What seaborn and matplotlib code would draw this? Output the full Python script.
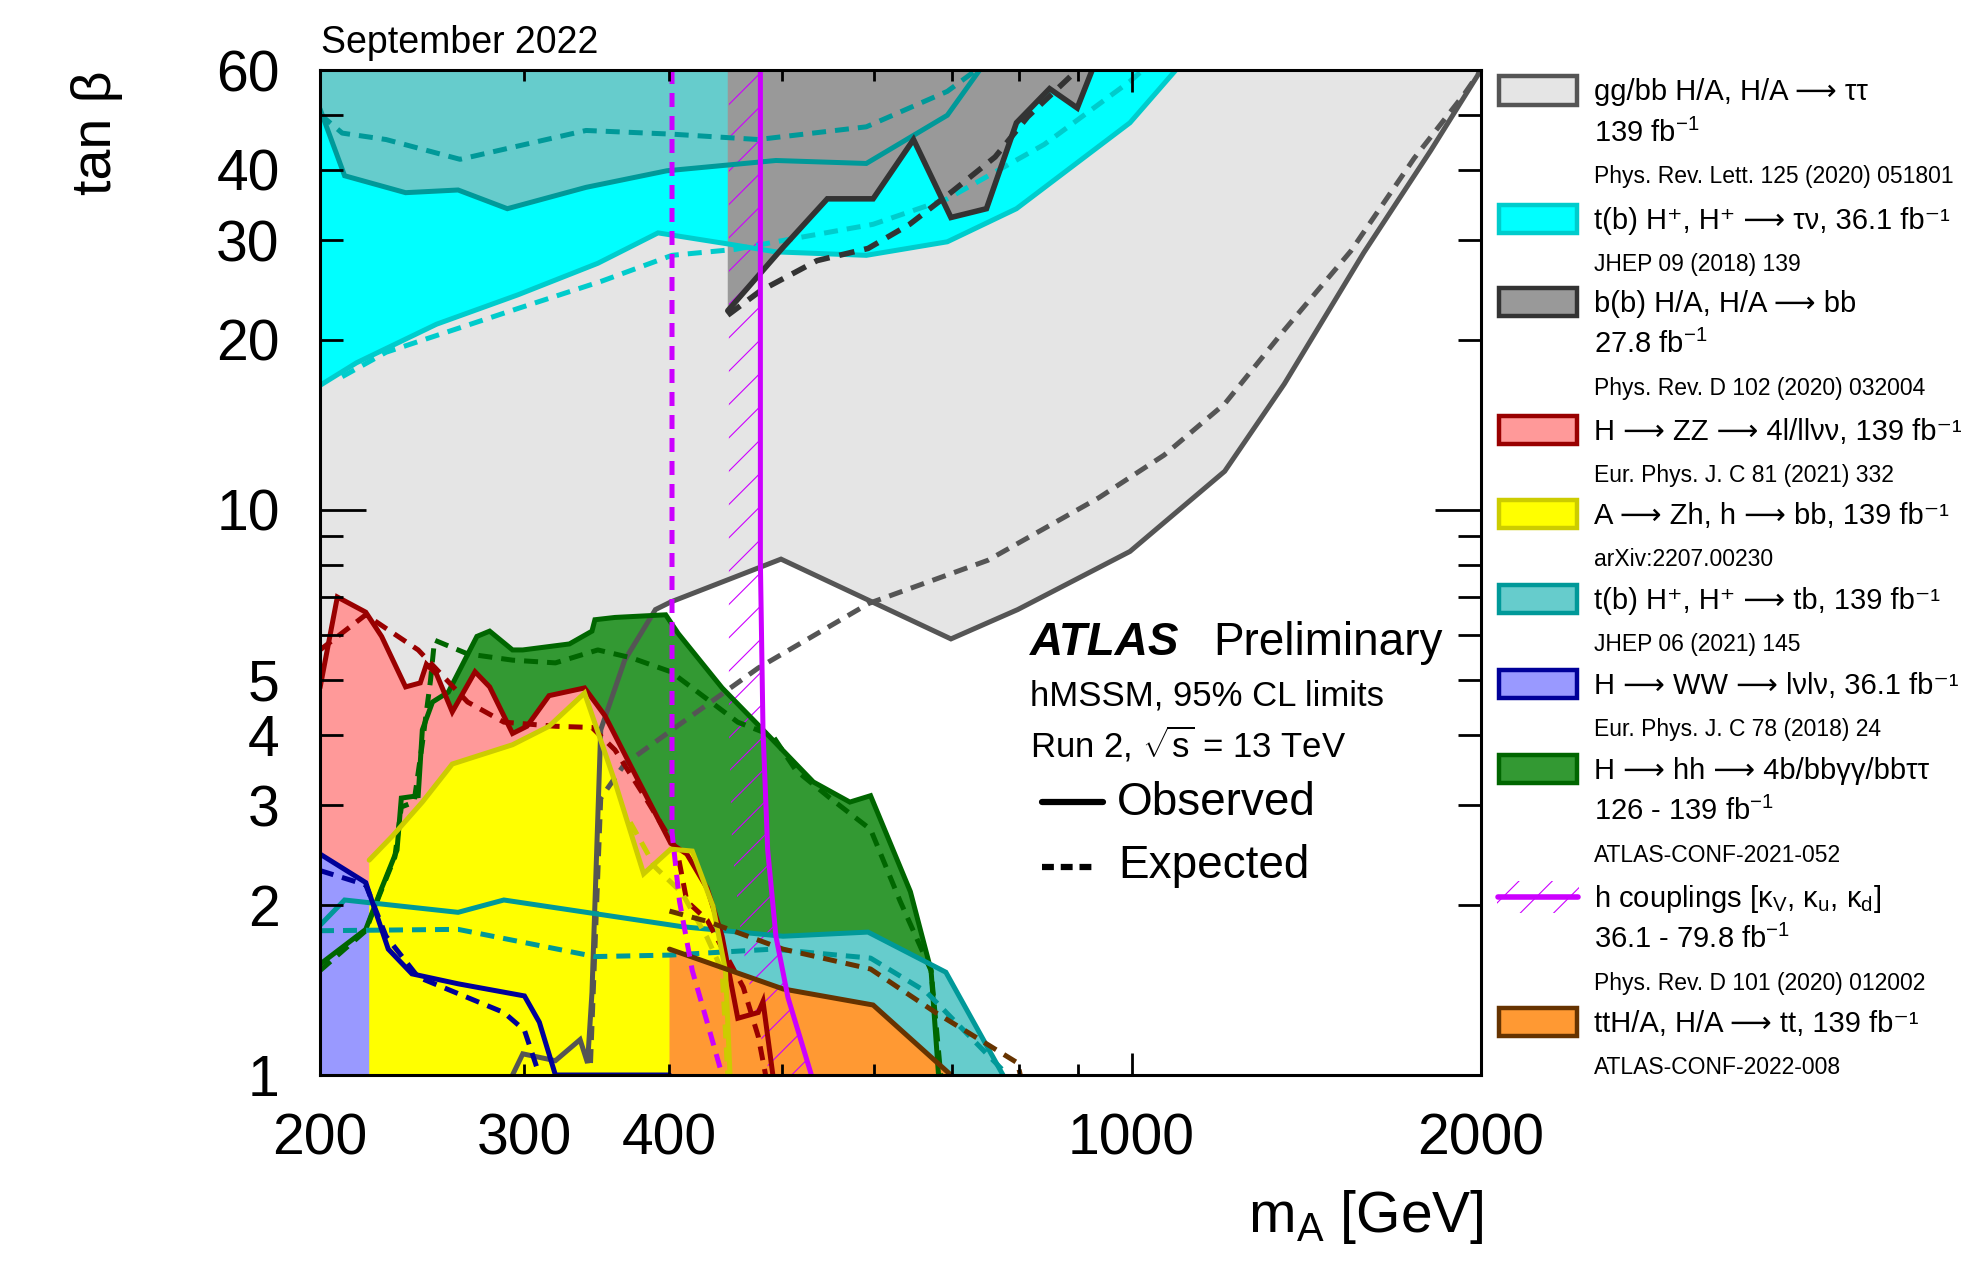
import matplotlib
matplotlib.use("Agg")
import matplotlib.pyplot as plt
from matplotlib.patches import Rectangle, Polygon
from matplotlib.lines import Line2D
import seaborn as sns

# axis range
XMIN, XMAX = 200, 2000
YMIN, YMAX = 1, 60

# gg/bb H/A -> tautau
TT_OBS_MA = [293, 299, 319, 335, 340, 343, 349, 366, 389, 401, 499, 699, 798, 997, 1203, 1354, 1585, 1810, 2000]
TT_OBS_TB = [1.0, 1.09, 1.06, 1.155, 1.05, 1.4, 4.08, 5.42, 6.66, 6.87, 8.18, 5.91, 6.66, 8.44, 11.7, 16.7, 28.5, 43.2, 60]
TT_EXP_MA = [342, 349, 366, 406, 477, 594, 752, 937, 1067, 1203, 1354, 1545, 1752, 1936, 2000]
TT_EXP_TB = [1.05, 3.09, 3.55, 4.14, 5.25, 6.83, 8.14, 10.5, 12.5, 15.4, 20.8, 28.7, 41.9, 54.5, 60]

# t(b) H+, H+ -> tau nu
TAUNU_OBS_MA = [200, 215, 252, 296, 347, 391, 451, 494, 591, 694, 796, 997, 1092]
TAUNU_OBS_TB = [16.6, 18.2, 21.3, 24.0, 27.3, 30.9, 29.5, 28.6, 28.2, 29.8, 34.1, 48.4, 60]
TAUNU_EXP_MA = [209, 228, 296, 350, 402, 456, 494, 599, 694, 841, 997, 1023]
TAUNU_EXP_TB = [17.2, 19.0, 22.7, 25.4, 28.2, 28.9, 29.8, 32.0, 35.5, 44.3, 57.3, 60]

# t(b) H+, H+ -> tb (high and low tan beta)
TBH_OBS_MA = [200, 210, 237, 263, 290, 339, 398, 494, 591, 694, 740]
TBH_OBS_TB = [51.2, 39.0, 36.4, 36.8, 34.1, 37.2, 39.8, 41.5, 41.0, 49.9, 60]
TBH_EXP_MA = [200, 209, 228, 264, 339, 402, 477, 591, 694, 735]
TBH_EXP_TB = [50.1, 46.4, 45.2, 41.7, 46.9, 46.2, 45.2, 47.6, 55.0, 60]
TBL_OBS_MA = [200, 210, 263, 288, 410, 501, 593, 692, 775]
TBL_OBS_TB = [1.84, 2.04, 1.94, 2.04, 1.83, 1.76, 1.79, 1.52, 1.0]
TBL_EXP_MA = [200, 263, 345, 401, 491, 596, 665, 782]
TBL_EXP_TB = [1.80, 1.81, 1.62, 1.63, 1.67, 1.61, 1.405, 1.0]

# b(b) H/A -> bb
BB_OBS_MA = [449, 500, 547, 599, 649, 699, 750, 796, 850, 898, 925]
BB_OBS_TB = [22.5, 29.0, 35.5, 35.5, 45.2, 32.9, 34.1, 48.4, 55.6, 51.4, 60]
BB_EXP_MA = [449, 479, 536, 593, 644, 701, 763, 814, 898]
BB_EXP_TB = [22.1, 24.4, 27.6, 29.0, 32.0, 36.6, 42.1, 49.6, 60]

# H -> ZZ
ZZ_OBS_MA = [200, 207, 219, 226, 237, 244, 247, 252, 260, 272, 280, 293, 301.5, 315, 338, 352, 371, 401, 414, 431, 444, 458, 477, 481.5, 491]
ZZ_OBS_TB = [4.84, 7.01, 6.59, 5.97, 4.86, 4.94, 5.33, 5.12, 4.39, 5.17, 4.86, 4.02, 4.14, 4.69, 4.84, 4.32, 3.50, 2.57, 2.46, 2.14, 1.76, 1.26, 1.29, 1.35, 1.0]
ZZ_EXP_MA = [200, 219, 243, 268, 288, 319, 343, 359, 381.5, 406, 414, 431, 463, 477, 484]
ZZ_EXP_TB = [5.65, 6.52, 5.65, 4.57, 4.21, 4.14, 4.12, 3.76, 3.09, 2.50, 2.03, 1.88, 1.43, 1.17, 1.0]

# A -> Zh
ZH_OBS_MA = [220.5, 231, 245, 260, 293, 315, 338, 359, 380, 401, 418.5, 436, 447, 451]
ZH_OBS_TB = [2.40, 2.65, 3.04, 3.55, 3.84, 4.14, 4.74, 3.30, 2.27, 2.51, 2.49, 1.99, 1.53, 1.0]
ZH_EXP_MA = [370, 389, 410, 431, 444, 449]
ZH_EXP_TB = [2.8, 2.33, 2.1, 1.75, 1.53, 1.0]

# H -> WW
WW_OBS_MA = [200, 219, 229, 240, 263, 300, 309, 319, 400]
WW_OBS_TB = [2.46, 2.19, 1.67, 1.51, 1.45, 1.38, 1.24, 1.0, 1.0]
WW_EXP_MA = [200, 219, 228, 243, 288, 300, 309]
WW_EXP_TB = [2.30, 2.17, 1.76, 1.49, 1.29, 1.20, 1.0]

# H -> hh
HH_OBS_MA = [200, 219, 226, 233, 235, 243, 245, 250, 258, 273, 280, 293, 299, 328, 343, 345, 359, 397, 407, 444, 481.5, 532, 572, 596, 645, 672, 682]
HH_OBS_TB = [1.57, 1.81, 2.14, 2.50, 3.09, 3.12, 4.08, 4.57, 4.76, 5.97, 6.10, 5.65, 5.65, 5.79, 6.10, 6.39, 6.45, 6.52, 6.04, 4.84, 4.08, 3.30, 3.04, 3.12, 2.11, 1.53, 1.0]
HH_EXP_MA = [200, 219, 225, 232, 235, 241, 245, 249, 251, 268, 293, 319, 347, 371, 401, 423, 458, 491, 514, 550, 596, 632, 672, 685]
HH_EXP_TB = [1.53, 1.80, 2.08, 2.43, 2.98, 3.04, 3.86, 4.99, 5.88, 5.56, 5.42, 5.36, 5.65, 5.47, 5.17, 4.76, 4.21, 3.98, 3.46, 3.09, 2.72, 2.03, 1.53, 1.0]

# ttH/A, H/A -> tt
TTB_OBS_MA = [400, 501, 599, 699]
TTB_OBS_TB = [1.67, 1.42, 1.33, 1.0]
TTB_EXP_MA = [400, 431, 501, 596, 678, 798, 802]
TTB_EXP_TB = [1.95, 1.87, 1.67, 1.54, 1.29, 1.05, 1.0]

# h couplings
HC_OBS_MA = [479, 479, 481.5, 486, 494, 506, 530]
HC_OBS_TB = [60, 8.1, 4.08, 2.50, 1.76, 1.37, 1.0]
HC_EDGE_MA = [450, 450, 453, 461, 471, 488]
HC_EDGE_TB = [60, 4.08, 2.50, 1.76, 1.37, 1.0]
HC_EXP_MA = [402, 402, 408, 418.5, 431, 444]
HC_EXP_TB = [60, 2.69, 2.03, 1.53, 1.24, 1.0]

# legend text
LEG_LINES = [
    ["gg/bb H/A, H/A ⟶ ττ", "139 fb$^{-1}$"],
    ["t(b) H⁺, H⁺ ⟶ τν, 36.1 fb⁻¹"],
    ["b(b) H/A, H/A ⟶ bb", "27.8 fb$^{-1}$"],
    ["H ⟶ ZZ ⟶ 4l/llνν, 139 fb⁻¹"],
    ["A ⟶ Zh, h ⟶ bb, 139 fb⁻¹"],
    ["t(b) H⁺, H⁺ ⟶ tb, 139 fb⁻¹"],
    ["H ⟶ WW ⟶ lνlν, 36.1 fb⁻¹"],
    ["H ⟶ hh ⟶ 4b/bbγγ/bbττ", "126 - 139 fb$^{-1}$"],
    ["h couplings [κ$_{V}$, κ$_{u}$, κ$_{d}$]", "36.1 - 79.8 fb$^{-1}$"],
    ["ttH/A, H/A ⟶ tt, 139 fb⁻¹"],
]
LEG_REFS = [
    "Phys. Rev. Lett. 125 (2020) 051801",
    "JHEP 09 (2018) 139",
    "Phys. Rev. D 102 (2020) 032004",
    "Eur. Phys. J. C 81 (2021) 332",
    "arXiv:2207.00230",
    "JHEP 06 (2021) 145",
    "Eur. Phys. J. C 78 (2018) 24",
    "ATLAS-CONF-2021-052",
    "Phys. Rev. D 101 (2020) 012002",
    "ATLAS-CONF-2022-008",
]

FILL = {"tt": "#e5e5e5", "taunu": "#00ffff", "bb": "#999999", "zz": "#ff9999", "zh": "#ffff00",
        "tb": "#66cccc", "ww": "#9999ff", "hh": "#339933", "hc": "#cc00ff", "ttb": "#ff9933"}
EDGE = {"tt": "#555555", "taunu": "#00cccc", "bb": "#333333", "zz": "#990000", "zh": "#cccc00",
        "tb": "#009999", "ww": "#000099", "hh": "#006600", "hc": "#cc00ff", "ttb": "#663300"}
LEG_KEYS = ["tt", "taunu", "bb", "zz", "zh", "tb", "ww", "hh", "hc", "ttb"]

W, H = 1980, 1285
sns.set_theme(style="ticks")
plt.rcParams["font.family"] = ["Liberation Sans", "DejaVu Sans"]
plt.rcParams["mathtext.fontset"] = "custom"
plt.rcParams["mathtext.rm"] = "Liberation Sans"
plt.rcParams["mathtext.it"] = "Liberation Sans"
plt.rcParams["mathtext.bf"] = "Liberation Sans:bold"
plt.rcParams["hatch.linewidth"] = 0.8
plt.rcParams["text.color"] = "black"
plt.rcParams["axes.labelcolor"] = "black"


def fx(px):
    return px / W


def fy(py):
    return 1 - py / H


fig = plt.figure(figsize=(W / 100, H / 100), dpi=100)
ax = fig.add_axes([fx(320), fy(1075), 1161 / W, 1005 / H])
ax.set_xscale("log")
ax.set_yscale("log")
ax.set_axisbelow(False)


def fill(pts, key, z):
    ax.add_patch(Polygon(pts, closed=True, facecolor=FILL[key], edgecolor="none", zorder=1 + z / 20))


def curve(ma, tb, key, dashed=False, lw=3.6):
    sns.lineplot(x=ma, y=tb, sort=False, estimator=None, color=EDGE[key], lw=lw, ax=ax, zorder=2.2)
    line = ax.lines[-1]
    line.set_solid_joinstyle("miter")
    if dashed:
        line.set_dashes((2.8, 1.8))


# excluded regions (bottom to top)
fill(list(zip(TT_OBS_MA, TT_OBS_TB)) + [(XMIN, YMAX), (XMIN, YMIN)], "tt", 1)
fill(list(zip(TAUNU_OBS_MA, TAUNU_OBS_TB)) + [(XMIN, YMAX)], "taunu", 2)
fill(list(zip(HH_OBS_MA, HH_OBS_TB)) + [(XMIN, YMIN)], "hh", 3)
fill(list(zip(TBH_OBS_MA, TBH_OBS_TB)) + [(XMIN, YMAX)], "tb", 4)
fill(list(zip(TBL_OBS_MA, TBL_OBS_TB)) + [(XMIN, YMIN)], "tb", 4)
fill([(BB_OBS_MA[0], YMAX)] + list(zip(BB_OBS_MA, BB_OBS_TB)), "bb", 5)
fill(list(zip(ZZ_OBS_MA, ZZ_OBS_TB)) + [(XMIN, YMIN)], "zz", 6)
fill(list(zip(WW_OBS_MA, WW_OBS_TB)) + [(XMIN, YMIN)], "ww", 7)
fill([(ZH_OBS_MA[0], YMIN)] + list(zip(ZH_OBS_MA, ZH_OBS_TB)), "zh", 8)
fill([(TTB_OBS_MA[0], YMIN)] + list(zip(TTB_OBS_MA, TTB_OBS_TB)), "ttb", 9)
ax.add_patch(Polygon(list(zip(HC_EDGE_MA, HC_EDGE_TB)) + list(zip(HC_OBS_MA, HC_OBS_TB))[::-1],
                     closed=True, facecolor="none", edgecolor=EDGE["hc"], lw=0, hatch="/", zorder=1.9))

# contours
curve(TT_OBS_MA, TT_OBS_TB, "tt")
curve(TT_EXP_MA, TT_EXP_TB, "tt", dashed=True)
curve(TAUNU_OBS_MA, TAUNU_OBS_TB, "taunu")
curve(TAUNU_EXP_MA, TAUNU_EXP_TB, "taunu", dashed=True)
curve(HH_OBS_MA, HH_OBS_TB, "hh")
curve(HH_EXP_MA, HH_EXP_TB, "hh", dashed=True)
curve(TBH_OBS_MA, TBH_OBS_TB, "tb")
curve(TBH_EXP_MA, TBH_EXP_TB, "tb", dashed=True)
curve(TBL_OBS_MA, TBL_OBS_TB, "tb")
curve(TBL_EXP_MA, TBL_EXP_TB, "tb", dashed=True)
curve(BB_OBS_MA, BB_OBS_TB, "bb", lw=4)
curve(BB_EXP_MA, BB_EXP_TB, "bb", dashed=True, lw=4)
curve(ZZ_OBS_MA, ZZ_OBS_TB, "zz")
curve(ZZ_EXP_MA, ZZ_EXP_TB, "zz", dashed=True)
curve(ZH_OBS_MA, ZH_OBS_TB, "zh")
curve(ZH_EXP_MA, ZH_EXP_TB, "zh", dashed=True)
curve(WW_OBS_MA, WW_OBS_TB, "ww")
curve(WW_EXP_MA, WW_EXP_TB, "ww", dashed=True)
curve(TTB_OBS_MA, TTB_OBS_TB, "ttb")
curve(TTB_EXP_MA, TTB_EXP_TB, "ttb", dashed=True)
curve(HC_OBS_MA, HC_OBS_TB, "hc")
curve(HC_EXP_MA, HC_EXP_TB, "hc", dashed=True)

ax.set_xlim(XMIN, XMAX)
ax.set_ylim(YMIN, YMAX)

# ticks
ax.set_xticks([200, 1000, 2000], labels=["200", "1000", "2000"])
ax.set_xticks([300, 400, 500, 600, 700, 800, 900], labels=["300", "400", "", "", "", "", ""], minor=True)
ax.set_yticks([1, 10, 60], labels=["1", "10", "60"])
ax.set_yticks([2, 3, 4, 5, 6, 7, 8, 9, 20, 30, 40, 50],
              labels=["2", "3", "4", "5", "", "", "", "", "20", "30", "40", ""], minor=True)
ax.tick_params(which="both", direction="in", top=True, right=True, labelsize=41,
               width=2, color="black", labelcolor="black")
ax.tick_params(axis="x", which="major", length=16, pad=27)
ax.tick_params(axis="x", which="minor", length=8, pad=27)
ax.tick_params(axis="y", which="major", length=33, pad=29)
ax.tick_params(axis="y", which="minor", length=16.5, pad=29)
for s in ax.spines.values():
    s.set_linewidth(2.2)
    s.set_color("black")
    s.set_zorder(3)

ax.set_ylabel("tan β", fontsize=40, va="center", ha="center")
ax.yaxis.set_label_coords((97 - 320) / 1161, (1075 - 133) / 1005)
ax.set_xlabel("m$_{A}$ [GeV]", fontsize=41, ha="right", va="baseline")
ax.xaxis.set_label_coords((1484 - 320) / 1161, -(1232 - 1075) / 1005)

# annotations
fig.text(fx(321), fy(53), "September 2022", fontsize=27)
fig.text(fx(1030), fy(655), "ATLAS", fontsize=33, fontweight="bold", fontstyle="italic")
fig.text(fx(1213), fy(655), "Preliminary", fontsize=33)
fig.text(fx(1030), fy(705), "hMSSM, 95% CL limits", fontsize=25)
fig.text(fx(1030), fy(757), "Run 2, $\\sqrt{s}$ = 13 TeV", fontsize=25)
fig.text(fx(1117), fy(815), "Observed", fontsize=33)
fig.text(fx(1118), fy(878), "Expected", fontsize=33)
fig.add_artist(Line2D([fx(1042), fx(1103)], [fy(802), fy(802)], color="black", lw=4.5))
exp_line = Line2D([fx(1042), fx(1096)], [fy(867), fy(867)], color="black", lw=4.5)
exp_line.set_dashes((1.9, 1.1))
fig.add_artist(exp_line)

# legend column
box_c = [90.5, 219, 302, 430, 514, 599, 684, 769, 897, 1022]
for key, c, lines, ref in zip(LEG_KEYS, box_c, LEG_LINES, LEG_REFS):
    if key == "hc":
        fig.add_artist(Rectangle((fx(1497), fy(c + 16)), 82 / W, 32 / H, transform=fig.transFigure,
                                 facecolor="none", edgecolor=EDGE[key], lw=0, hatch="/"))
        fig.add_artist(Line2D([fx(1498), fx(1578)], [fy(c), fy(c)], color=EDGE[key], lw=4))
    else:
        fig.add_artist(Rectangle((fx(1499), fy(c + 14)), 78 / W, 28 / H, transform=fig.transFigure,
                                 facecolor=FILL[key], edgecolor=EDGE[key], lw=3.2))
    y = c + 10
    for txt in lines:
        fig.text(fx(1594), fy(y), txt, fontsize=21)
        y += 41
    fig.text(fx(1594), fy(y + 1), ref, fontsize=16.5)

fig.savefig("out.png", dpi=100)
